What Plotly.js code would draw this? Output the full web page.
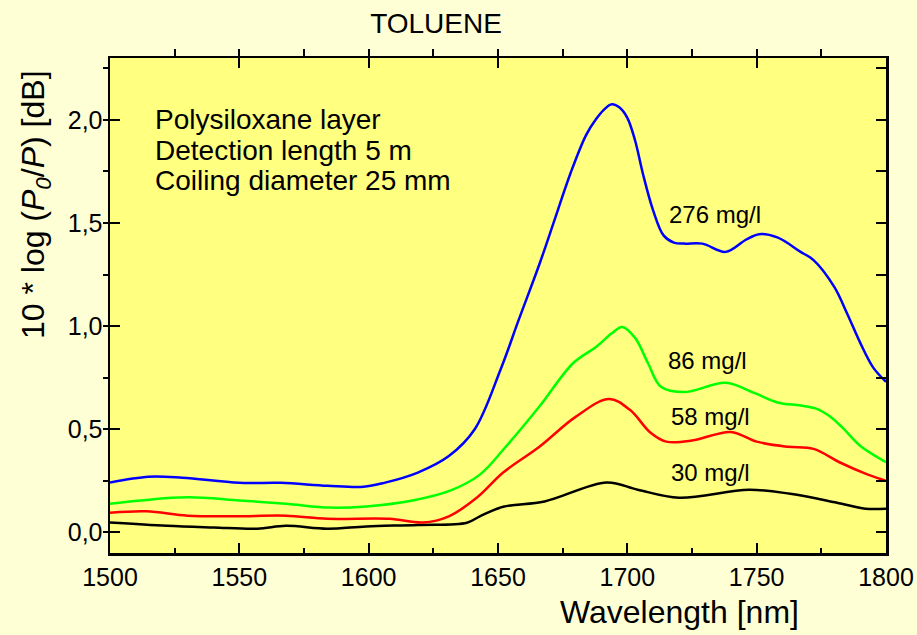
<!DOCTYPE html>
<html>
<head>
<meta charset="utf-8">
<script src="https://cdn.plot.ly/plotly-3.0.1.min.js"></script>
<style>html,body{margin:0;padding:0;background:#FFFFD6;}#chart{width:917px;height:635px;}</style>
</head>
<body>
<div id="chart"></div>
<script>
// Data (wavelength in nm, attenuation in dB)
const x276 = [1500,1515,1528,1550,1566,1584,1598,1606,1619,1631,1641,1651,1658,1666,1672,1678,1684,1688,1691,1694,1697,1700,1703,1706,1710,1714,1718,1722,1729,1738,1746,1751,1758,1767,1772,1780,1785,1790,1795,1800];
const y276 = [0.242,0.27,0.265,0.24,0.24,0.226,0.221,0.24,0.29,0.37,0.50,0.79,1.03,1.30,1.52,1.74,1.925,2.005,2.05,2.076,2.06,2.01,1.90,1.74,1.56,1.44,1.405,1.40,1.40,1.36,1.42,1.446,1.43,1.36,1.32,1.19,1.06,0.92,0.80,0.73];

const x86 = [1500,1512,1530,1550,1568,1585,1599,1617,1632,1643,1653,1666,1679,1688,1694,1698,1703,1708,1713,1722,1738,1749,1758,1767,1773,1778,1783,1790,1800];
const y86 = [0.139,0.155,0.17,0.155,0.139,0.12,0.126,0.155,0.205,0.28,0.415,0.61,0.82,0.90,0.965,0.996,0.943,0.82,0.706,0.68,0.725,0.676,0.63,0.615,0.60,0.565,0.51,0.42,0.34];

const x58 = [1500,1514,1530,1548,1568,1584,1608,1621,1631,1642,1652,1666,1680,1693,1701,1709,1715,1725,1740,1750,1762,1772,1782,1793,1800];
const y58 = [0.095,0.102,0.081,0.078,0.081,0.066,0.066,0.048,0.078,0.17,0.29,0.415,0.56,0.647,0.594,0.483,0.44,0.445,0.487,0.44,0.415,0.405,0.34,0.28,0.25];

const x30 = [1500,1522,1540,1557,1568,1584,1599,1619,1638,1643,1652,1668,1692,1704,1720,1747,1763,1781,1792,1800];
const y30 = [0.048,0.032,0.024,0.018,0.032,0.018,0.029,0.036,0.047,0.078,0.124,0.15,0.242,0.207,0.168,0.207,0.187,0.144,0.115,0.115];

const seriesLabels = ['276 mg/l','86 mg/l','58 mg/l','30 mg/l'];
const labelX = [1715.5,1715,1716,1716];
const labelY = [1.54,0.835,0.56,0.29];
const infoLines = ['Polysiloxane layer','Detection length 5 m','Coiling diameter 25 mm'];
const infoY = [2.0,1.85,1.705];
const xTitle = 'Wavelength [nm]';
const yTitle = '10 * log (<i>P</i><sub><i>0</i></sub>/<i>P</i>) [dB]';

const FONT = 'Arial, "Liberation Sans", sans-serif';
function line(x,y,color){
  return {x:x,y:y,type:'scatter',mode:'lines',line:{color:color,width:2.5,shape:'spline',smoothing:1.0},hoverinfo:'skip',showlegend:false};
}
const traces = [
  line(x30,y30,'#000000'),
  line(x58,y58,'#FF0000'),
  line(x86,y86,'#00FF00'),
  line(x276,y276,'#0000FF'),
  {x:[1500],y:[0],xaxis:'x2',yaxis:'y2',type:'scatter',mode:'markers',marker:{opacity:0},hoverinfo:'skip',showlegend:false}
];

const annotations = [];
seriesLabels.forEach((t,i)=>annotations.push({x:labelX[i],y:labelY[i],xref:'x',yref:'y',text:t,showarrow:false,xanchor:'left',yanchor:'middle',font:{family:FONT,size:24,color:'#000'}}));
infoLines.forEach((t,i)=>annotations.push({x:1516.6,y:infoY[i],xref:'x',yref:'y',text:t,showarrow:false,xanchor:'left',yanchor:'middle',font:{family:FONT,size:28,color:'#000'}}));
// axis titles (placed off-centre as in the reference)
annotations.push({x:0.7345,y:-0.119,xref:'paper',yref:'paper',text:xTitle,showarrow:false,xanchor:'center',yanchor:'middle',font:{family:FONT,size:32,color:'#000'}});
annotations.push({x:-0.0966,y:0.703,xref:'paper',yref:'paper',text:yTitle,textangle:-90,showarrow:false,xanchor:'center',yanchor:'middle',font:{family:FONT,size:32,color:'#000'}});

const layout = {
  width:917,height:635,
  paper_bgcolor:'#FFFFD6',plot_bgcolor:'#FFFF80',
  separators:',.',
  margin:{l:110,r:31,t:58,b:82},
  font:{family:FONT,color:'#000'},
  title:{text:'TOLUENE',font:{family:FONT,size:28,color:'#000'},xref:'container',yref:'container',x:0.4755,xanchor:'center',y:0.964,yanchor:'middle'},
  xaxis:{range:[1500,1800],dtick:50,tick0:1500,showgrid:false,zeroline:false,showline:true,linewidth:2.5,linecolor:'#000',
    ticks:'inside',ticklen:10,tickwidth:2,tickcolor:'#000',
    minor:{dtick:25,ticks:'inside',ticklen:5,tickwidth:2,tickcolor:'#000',showgrid:false},
    tickfont:{family:FONT,size:25,color:'#000'}},
  xaxis2:{overlaying:'x',side:'top',matches:'x',range:[1500,1800],dtick:50,tick0:1500,showgrid:false,zeroline:false,showline:true,linewidth:2.5,linecolor:'#000',
    ticks:'inside',ticklen:10,tickwidth:2,tickcolor:'#000',showticklabels:false,
    minor:{dtick:25,ticks:'outside',ticklen:7,tickwidth:2,tickcolor:'#000',showgrid:false}},
  yaxis:{range:[-0.1,2.3],dtick:0.5,tick0:0,tickformat:'.1f',showgrid:false,zeroline:false,showline:true,linewidth:2.5,linecolor:'#000',
    ticks:'inside',ticklen:10,tickwidth:2,tickcolor:'#000',
    minor:{dtick:0.25,ticks:'outside',ticklen:5,tickwidth:2,tickcolor:'#000',showgrid:false},
    tickfont:{family:FONT,size:25,color:'#000'},ticklabelstandoff:0},
  yaxis2:{overlaying:'y',side:'right',matches:'y',range:[-0.1,2.3],dtick:0.5,tick0:0,showgrid:false,zeroline:false,showline:true,linewidth:2.5,linecolor:'#000',
    ticks:'inside',ticklen:10,tickwidth:2,tickcolor:'#000',showticklabels:false,
    minor:{dtick:0.25,ticks:'inside',ticklen:10,tickwidth:2,tickcolor:'#000',showgrid:false}},
  annotations:annotations
};
Plotly.newPlot('chart',traces,layout,{displayModeBar:false,staticPlot:true});
</script>
</body>
</html>
